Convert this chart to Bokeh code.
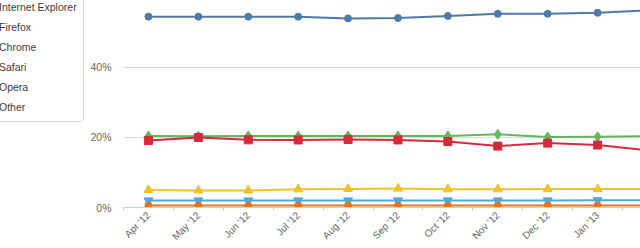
import math
from bokeh.plotting import figure
from bokeh.layouts import row
from bokeh.models import Range1d, FixedTicker, PrintfTickFormatter, Legend, LegendItem
from bokeh.embed import file_html
from bokeh.resources import INLINE

months = ["Apr '12", "May '12", "Jun '12", "Jul '12", "Aug '12", "Sep '12",
          "Oct '12", "Nov '12", "Dec '12", "Jan '13", "Feb '13"]
ie      = [54.4, 54.4, 54.4, 54.4, 53.9, 54.0, 54.6, 55.2, 55.2, 55.5, 56.2]
firefox = [20.4, 20.3, 20.4, 20.4, 20.4, 20.4, 20.4, 20.85, 20.1, 20.2, 20.3]
chrome  = [19.1, 19.95, 19.3, 19.25, 19.4, 19.25, 18.8, 17.5, 18.35, 17.8, 16.3]
safari  = [5.0, 4.85, 4.85, 5.2, 5.3, 5.4, 5.2, 5.2, 5.25, 5.25, 5.3]
opera   = [2.0, 2.0, 2.0, 2.0, 2.0, 2.0, 2.0, 2.0, 2.0, 2.05, 2.1]
other   = [0.6, 0.6, 0.6, 0.6, 0.6, 0.6, 0.6, 0.6, 0.6, 0.6, 0.6]
y_ticks = [0, 20, 40, 60]

x = list(range(len(months)))
FONT = "Liberation Sans"

series = [
    ("Internet Explorer", ie, "#4f7aa6", "circle", 7),
    ("Firefox", firefox, "#62b757", "diamond", 10),
    ("Chrome", chrome, "#d42a3c", "square", 8),
    ("Safari", safari, "#efc228", "triangle", 9),
    ("Opera", opera, "#4ea8de", "inverted_triangle", 9),
    ("Other", other, "#e2761f", "circle", 7),
]

LEG_W = 87

# ---- main chart ----
p = figure(width=640 - LEG_W, height=248, output_backend="svg", toolbar_location=None,
           x_range=Range1d(-0.5, 9.86), y_range=Range1d(0, 59.0),
           min_border_left=122 - LEG_W, min_border_right=0, min_border_top=0, min_border_bottom=0)
p.outline_line_color = None
p.background_fill_color = "white"
p.border_fill_color = "white"

p.yaxis.ticker = FixedTicker(ticks=y_ticks)
p.yaxis.formatter = PrintfTickFormatter(format="%d%%")
p.yaxis.axis_line_color = None
p.yaxis.major_tick_line_color = None
p.yaxis.minor_tick_line_color = None
p.yaxis.major_label_text_font = FONT
p.yaxis.major_label_text_font_size = "10.5px"
p.yaxis.major_label_text_color = "#666666"
p.yaxis.major_label_standoff = 6

p.xaxis.ticker = FixedTicker(ticks=x, minor_ticks=[i - 0.5 for i in range(len(months) + 1)])
p.xaxis.major_label_overrides = {i: m for i, m in enumerate(months)}
p.xaxis.major_label_orientation = math.pi / 4
p.xaxis.major_tick_out = 0
p.xaxis.major_tick_in = 0
p.xaxis.minor_tick_out = 3
p.xaxis.minor_tick_in = 0
p.xaxis.minor_tick_line_color = "#c0d0e0"
p.xaxis.axis_line_color = "#c0d0e0"
p.xaxis.major_label_text_font = FONT
p.xaxis.major_label_text_font_size = "10px"
p.xaxis.major_label_text_color = "#666666"
p.xaxis.major_label_standoff = 3

p.xgrid.grid_line_color = None
p.ygrid.grid_line_color = "#dcdcdc"

for name, vals, col, mk, sz in series:
    p.line(x, vals, line_color=col, line_width=2, line_join="round")
    p.scatter(x, vals, marker=mk, size=sz, fill_color=col, line_color=col)

# ---- legend panel (its own small figure, left of the chart) ----
lg = figure(width=LEG_W, height=248, output_backend="svg", toolbar_location=None,
            x_axis_location=None, y_axis_location=None,
            x_range=Range1d(100, 101), y_range=Range1d(100, 101),
            min_border=0)
lg.outline_line_color = None
lg.grid.visible = False
lg.background_fill_color = "white"
lg.border_fill_color = "white"

items = []
for name, vals, col, mk, sz in series:
    lr = lg.line(x, vals, line_color=col, line_width=2)
    sr = lg.scatter(x, vals, marker=mk, size=sz, fill_color=col, line_color=col)
    items.append(LegendItem(label=name, renderers=[lr, sr]))

legend = Legend(items=items, location=(-30, 85), orientation="vertical",
                padding=6, spacing=4, glyph_width=16, glyph_height=16,
                label_height=16, label_standoff=6, margin=0,
                label_text_font=FONT, label_text_font_size="10.5px",
                label_text_color="#3c3c3c",
                border_line_color="#aaaaaa", border_line_width=1,
                border_radius=5, background_fill_color="white",
                background_fill_alpha=1)
lg.add_layout(legend)

layout = row(lg, p, spacing=0)
open("out.html", "w").write(file_html(layout, INLINE))
